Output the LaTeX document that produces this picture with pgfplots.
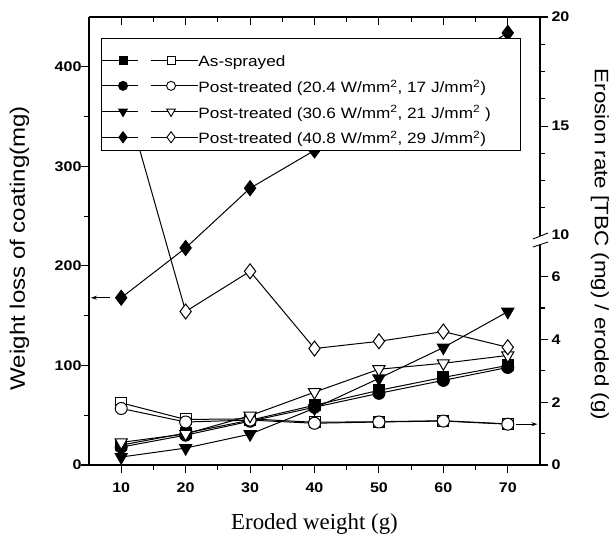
\documentclass[border=0pt]{standalone}
\usepackage{fontspec}
\setmainfont{Liberation Sans}[FakeStretch=1.15]
\newfontfamily\timesfont{Liberation Serif}
\usepackage{pgfplots}
\usepackage{pgfplotstable}
\pgfplotsset{compat=1.18}
\usetikzlibrary{arrows.meta}

% weight loss of coating (mg), left axis, filled symbols
\pgfplotstableread{
x   asspr  pt20  pt30  pt40
10  20     18    8     168
20  32     30    17    218
30  45     44    31    278
40  60     58    57    316
50  75     72    87    355
60  88     85    118   395
70  100    98    154   434
}\weightloss

% erosion rate (mg/g), right axis, open symbols
\pgfplotstableread{
x   asspr  pt20  pt30  pt40
10  1.98   1.80  0.72  16.9
20  1.45   1.37  0.99  4.89
30  1.47   1.43  1.57  6.17
40  1.36   1.33  2.32  3.71
50  1.38   1.37  3.05  3.94
60  1.41   1.40  3.24  4.25
70  1.31   1.30  3.49  3.75
}\erosion

\pgfplotsset{
  base/.style={
    width=451bp, height=448bp, scale only axis,
    at={(0,0)}, anchor=south west,
    xmin=5, xmax=75,
    axis line style={line width=1.6bp},
    every tick/.style={black, line width=1.1bp},
    major tick length=8bp, minor tick length=5bp,
    tick label style={font=\fontsize{14}{16}\selectfont\bfseries},
    /pgf/number format/assume math mode=true,
  },
  series/.style={black, line width=1bp},
  legpair/.style 2 args={legend image code/.code={
    \draw[black, line width=0.9bp] (0bp,-4bp) -- (36bp,-4bp) (49bp,-4bp) -- (96bp,-4bp);
    \draw[black, line width=0.9bp] plot[only marks, #1] coordinates {(21bp,-4bp)};
    \draw[black, line width=0.9bp] plot[only marks, #2] coordinates {(69bp,-4bp)};
  }},
}

\begin{document}
\begin{tikzpicture}
\path[use as bounding box] (-89bp,-71bp) rectangle (524bp,465bp);

% left axis: weight loss
\begin{axis}[base,
  axis x line*=bottom, axis y line*=left,
  tick align=outside,
  ymin=0, ymax=450,
  ytick={0,100,200,300,400}, minor ytick={50,150,250,350},
  xtick={10,20,...,70}, minor xtick={15,25,...,65},
  xticklabel style={yshift=-6bp},
  yticklabel style={xshift=4bp},
  xlabel={Eroded weight (g)},
  xlabel style={font=\timesfont\fontsize{23}{26}\selectfont, at={(axis description cs:0.5,-0.145)}, anchor=base},
  ylabel={Weight loss of coating(mg)},
  ylabel style={font=\fontsize{21}{24}\selectfont, at={(axis description cs:-0.154,0.484)}, anchor=center},
]
\addplot[series, mark=square*, mark size=5.5bp, mark options={fill=black}] table[x=x,y=asspr]{\weightloss};
\addplot[series, mark=*, mark size=6bp, mark options={fill=black}] table[x=x,y=pt20]{\weightloss};
\addplot[series, mark=triangle*, mark size=7bp, mark options={fill=black, rotate=180}] table[x=x,y=pt30]{\weightloss};
\addplot[series, mark=diamond*, mark size=7.5bp, mark options={fill=black}] table[x=x,y=pt40]{\weightloss};
\draw[-{Stealth[length=6bp,width=4bp]}, line width=0.8bp] (axis cs:8.2,168) -- (axis cs:5.3,168);
\end{axis}

% top axis: inward ticks only
\begin{axis}[base,
  axis x line*=top, axis y line=none, tick align=inside,
  ymin=0, ymax=1,
  xtick={10,20,...,70}, minor xtick={15,25,...,65}, xticklabels={},
]
\end{axis}

% right axis: erosion rate, broken between 7 and 10
\begin{axis}[base,
  axis x line=none, axis y line*=right, tick align=outside,
  y coord trafo/.code={\pgfmathparse{(#1<8.5) ? (#1) : (7.32+((#1)-10)*0.695)}},
  ymin=0, ymax=20,
  ytick={0,2,4,6,10,15,20}, yticklabels={0,2,4,6,10,15,20},
  minor ytick={1,3,5,11.25,12.5,13.75,16.25,17.5,18.75},
  ylabel={Erosion rate [TBC (mg) / eroded (g)},
  ylabel style={font=\fontsize{19.5}{22}\selectfont, at={(axis description cs:1.133,0.492)}, anchor=center, rotate=180},
  legend cell align=left,
  legend style={at={(axis description cs:0.0266,0.953)}, anchor=north west,
    draw=black, line width=1.2bp, fill=white,
    font=\fontsize{15}{17}\selectfont,
    inner xsep=0pt, inner ysep=5bp, row sep=0.7bp,
    nodes={inner xsep=0pt, inner ysep=0pt, text height=23bp, text depth=2bp}},
]
\addplot[series, forget plot, mark=square*, mark size=5.5bp, mark options={fill=white}] table[x=x,y=asspr]{\erosion};
\addplot[series, forget plot, mark=*, mark size=6bp, mark options={fill=white}] table[x=x,y=pt20]{\erosion};
\addplot[series, forget plot, mark=triangle*, mark size=7bp, mark options={fill=white, rotate=180}] table[x=x,y=pt30]{\erosion};
\addplot[series, forget plot, mark=diamond*, mark size=7.5bp, mark options={fill=white}] table[x=x,y=pt40]{\erosion};
\draw[-{Stealth[length=6bp,width=4bp]}, line width=0.8bp] (axis cs:71.3,1.3) -- (axis cs:74.6,1.3);

\addlegendimage{legpair={mark=square*, mark size=4bp, mark options={fill=black}}{mark=square*, mark size=4bp, mark options={fill=white}}}
\addlegendentry{As-sprayed\hspace*{30bp}}
\addlegendimage{legpair={mark=*, mark size=4.5bp, mark options={fill=black}}{mark=*, mark size=4.5bp, mark options={fill=white}}}
\addlegendentry{Post-treated (20.4 W/mm\textsuperscript{2}, 17 J/mm\textsuperscript{2})\hspace*{30bp}}
\addlegendimage{legpair={mark=triangle*, mark size=5bp, mark options={fill=black, rotate=180}}{mark=triangle*, mark size=5bp, mark options={fill=white, rotate=180}}}
\addlegendentry{Post-treated (30.6 W/mm\textsuperscript{2}, 21 J/mm\textsuperscript{2} )\hspace*{30bp}}
\addlegendimage{legpair={mark=diamond*, mark size=5.5bp, mark options={fill=black}}{mark=diamond*, mark size=5.5bp, mark options={fill=white}}}
\addlegendentry{Post-treated (40.8 W/mm\textsuperscript{2}, 29 J/mm\textsuperscript{2})\hspace*{30bp}}
\end{axis}

% axis break marks
\fill[white] (444bp,226bp) -- (459bp,232bp) -- (459bp,223bp) -- (444bp,218bp) -- cycle;
\draw[line width=0.9bp] (444bp,226bp) -- (459bp,232bp) (444bp,218bp) -- (459bp,223bp);
\end{tikzpicture}
\end{document}
